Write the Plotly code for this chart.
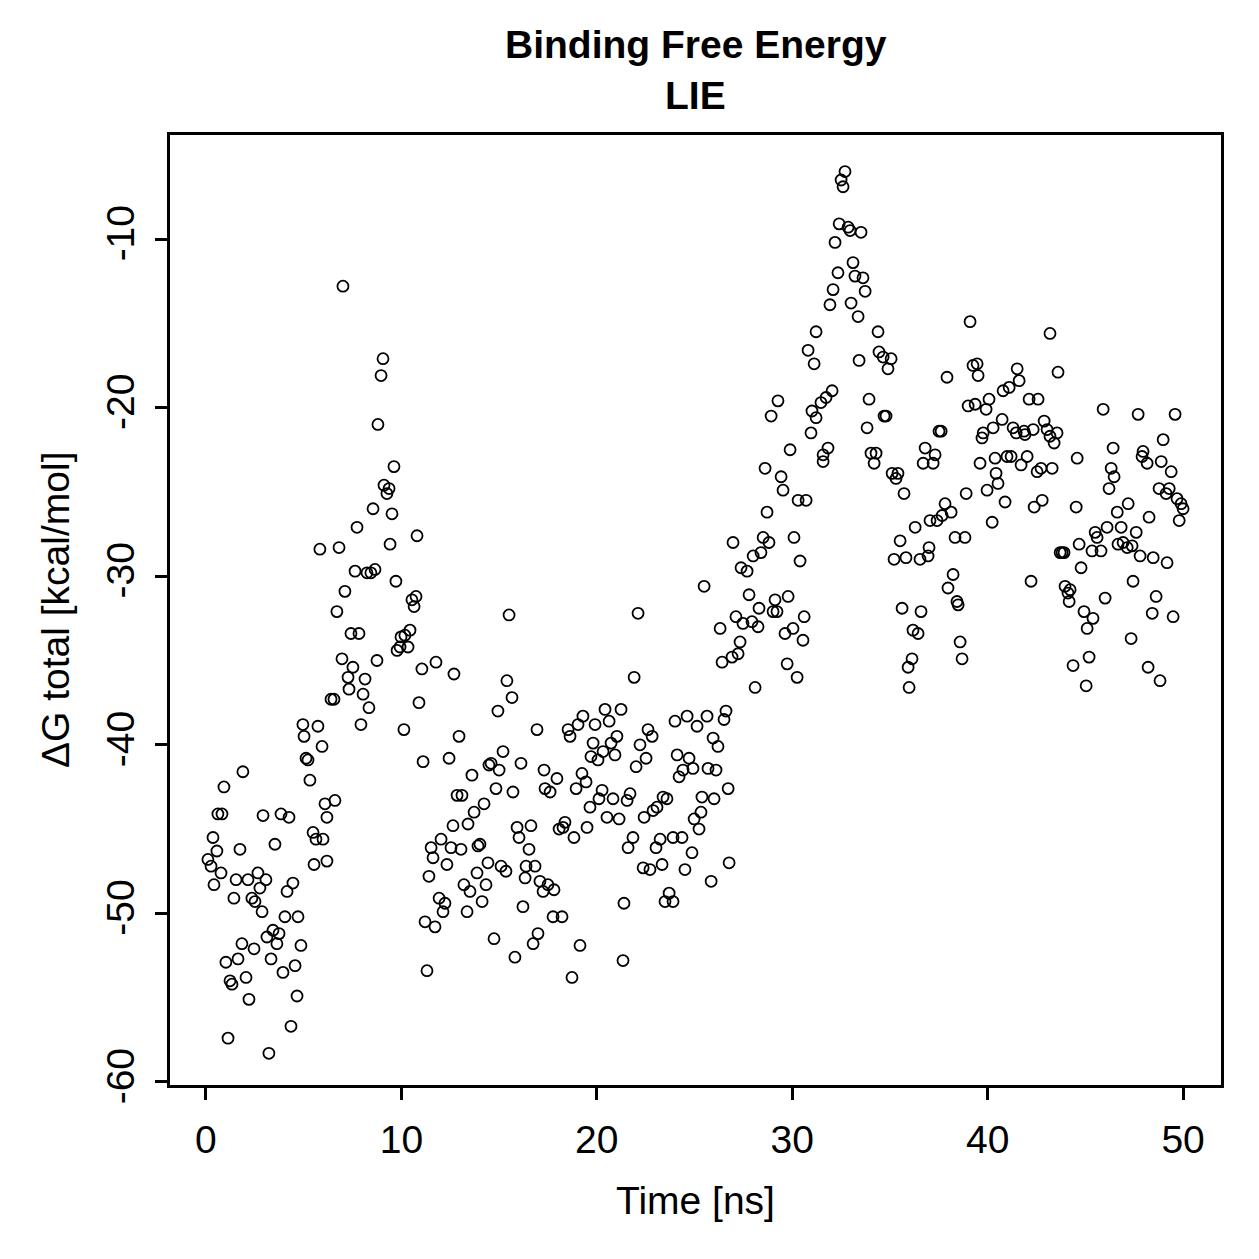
import plotly.graph_objects as go

# Time [ns] and ΔG total [kcal/mol]
time_ns = [
 4.96,5.73,5.02,5.94,5.12,5.22,5.32,1.89,0.92,0.61,0.82,2.92,3.84,4.25,6.09,6.19,0.36,0.56,1.74,3.53,
 5.48,5.63,5.99,0.10,0.26,0.77,0.41,1.54,2.15,2.66,3.07,2.76,5.53,6.19,4.45,4.15,1.43,2.35,2.51,2.87,
 4.04,4.71,3.43,3.74,3.12,3.63,4.86,1.84,2.46,1.02,1.64,3.33,4.56,3.94,1.23,1.33,2.05,2.20,4.66,4.35,
 1.13,3.22,6.60,
 7.01,9.06,8.96,8.80,9.62,9.11,9.37,9.26,8.55,9.52,7.73,10.80,5.83,6.81,9.42,7.63,8.24,8.44,8.65,9.72,
 7.11,10.54,10.75,10.65,6.70,7.42,7.83,10.44,10.18,9.98,10.34,9.93,9.78,11.77,6.96,7.52,8.75,11.05,7.27,8.14,
 7.32,8.04,6.40,6.55,8.34,10.90,7.93,10.13,
 15.51,12.69,15.40,15.66,14.94,16.94,12.95,11.11,12.44,13.61,15.20,14.59,14.48,15.00,16.12,17.30,17.96,14.84,15.71,17.35,
 17.61,12.85,13.10,14.23,13.72,12.64,13.41,15.92,16.63,16.02,16.53,12.03,11.52,11.62,12.54,13.05,13.92,14.02,12.33,14.43,
 15.10,15.35,16.38,16.84,16.33,11.41,13.87,13.20,13.51,14.33,17.09,17.50,17.25,17.81,11.93,12.23,12.13,14.13,13.36,16.22,
 17.76,11.21,11.72,14.74,16.99,16.74,15.81,11.31,
 22.11,21.91,18.53,18.63,19.04,19.29,19.91,20.42,20.63,21.24,21.03,20.73,19.81,20.32,19.70,20.06,20.93,22.62,22.83,22.21,
 22.52,22.01,24.00,24.62,25.13,25.64,25.95,26.20,24.11,24.72,24.41,24.92,24.21,25.69,26.10,19.24,19.45,18.94,20.27,20.11,
 20.83,21.70,21.55,19.65,20.52,21.14,23.39,23.59,23.08,22.88,22.42,25.38,26.00,25.33,24.98,25.23,18.37,18.07,18.27,18.83,
 19.50,21.85,21.60,23.24,23.03,23.90,24.36,24.87,22.37,22.72,23.34,24.51,25.85,21.39,23.70,23.49,23.90,18.22,19.14,21.34,
 18.73,26.61,26.51,26.72,26.77,
 29.27,28.92,28.61,29.43,29.53,30.30,30.71,28.71,26.97,28.51,28.81,30.09,28.00,28.40,30.40,27.38,27.69,25.49,27.79,29.12,
 29.79,28.30,29.02,29.22,27.12,27.48,27.94,28.25,30.61,26.31,30.04,29.63,30.55,27.33,27.23,26.92,26.41,29.74,30.25,28.10,
 32.70,32.50,32.60,32.40,32.86,32.96,33.52,32.19,33.11,32.34,33.21,33.62,33.73,32.09,31.93,33.01,33.37,31.22,34.39,30.81,
 31.12,33.42,34.44,34.65,35.06,34.90,32.04,31.73,31.47,31.01,31.22,33.93,34.70,34.80,30.96,33.83,29.89,31.83,31.58,31.58,
 34.03,34.29,34.19,
 39.10,37.92,39.25,39.46,39.51,39.00,39.36,40.07,39.92,40.79,37.51,37.62,39.77,39.71,40.28,36.80,37.31,36.70,37.21,35.11,
 35.41,35.31,35.72,39.61,40.38,40.43,40.53,39.97,38.90,37.82,38.13,37.67,37.41,37.05,36.29,35.52,37.00,36.95,36.54,35.82,
 35.21,38.33,38.84,40.23,38.23,37.97,38.43,38.49,35.62,36.59,36.18,36.44,38.59,38.69,36.13,35.93,35.98,
 43.19,43.60,41.51,41.61,41.10,42.12,42.58,40.74,41.30,41.46,41.86,41.91,42.33,42.89,43.04,43.19,43.55,43.40,40.99,41.20,
 42.02,41.71,42.53,42.73,43.30,44.58,40.89,42.38,42.79,44.53,44.68,43.71,43.81,43.91,44.78,42.22,43.96,44.22,44.11,44.17,
 44.93,45.39,45.09,45.19,44.37,45.04,45.50,45.60,45.34,45.80,
 45.91,47.70,49.59,48.98,46.42,47.95,47.90,48.16,48.88,49.39,46.32,46.47,46.21,48.77,49.29,49.13,49.69,49.90,50.00,49.80,
 47.19,46.63,48.26,46.11,46.83,47.60,46.67,46.93,47.14,47.39,47.80,48.47,49.18,47.44,46.01,48.62,48.42,49.49,47.34,48.21,
 48.82,
]

dg_total = [
 -38.8,-38.9,-39.5,-40.1,-40.8,-40.9,-42.1,-41.6,-42.5,-44.1,-44.1,-44.2,-44.1,-44.3,-43.5,-44.3,-45.5,-46.3,-46.2,-45.9,
 -45.2,-45.6,-45.6,-46.8,-47.2,-47.6,-48.3,-48.0,-48.0,-47.6,-48.0,-48.5,-47.1,-46.9,-48.2,-48.7,-49.1,-49.1,-49.3,-49.9,
 -50.2,-50.2,-51.0,-51.2,-51.4,-51.8,-51.9,-51.8,-52.1,-52.9,-52.7,-52.7,-53.1,-53.5,-54.0,-54.2,-53.8,-55.1,-54.9,-56.7,
 -57.4,-58.3,-43.3,
 -12.8,-17.1,-18.1,-21.0,-23.5,-24.6,-24.8,-25.1,-26.0,-26.3,-27.1,-27.6,-28.4,-28.3,-28.1,-29.7,-29.8,-29.8,-29.6,-30.3,
 -30.9,-31.4,-31.2,-31.8,-32.1,-33.4,-33.4,-33.2,-33.5,-33.6,-34.2,-34.2,-34.4,-35.1,-34.9,-35.4,-35.0,-35.5,-36.0,-36.1,
 -36.7,-37.0,-37.3,-37.3,-37.8,-37.5,-38.8,-39.1,
 -32.3,-35.8,-36.2,-37.2,-38.0,-39.1,-39.5,-41.0,-40.8,-41.8,-40.4,-41.1,-41.2,-41.5,-41.1,-41.5,-42.0,-42.6,-42.8,-42.6,
 -42.8,-43.0,-43.0,-43.5,-44.0,-44.8,-44.7,-44.9,-44.8,-45.5,-46.2,-45.6,-46.1,-46.7,-46.1,-46.2,-46.0,-45.9,-47.1,-47.0,
 -47.2,-47.5,-47.2,-47.2,-47.9,-47.8,-47.6,-48.3,-48.7,-48.3,-48.1,-48.3,-48.7,-48.6,-49.1,-49.4,-49.9,-49.3,-49.9,-49.6,
 -50.2,-50.5,-50.8,-51.5,-51.2,-51.8,-52.6,-53.4,
 -32.2,-36.0,-39.1,-39.5,-38.8,-38.3,-38.8,-37.9,-38.6,-37.9,-39.5,-39.9,-39.9,-40.4,-40.7,-40.9,-40.6,-39.1,-39.5,-40.0,
 -40.8,-41.3,-38.6,-38.3,-38.9,-38.3,-39.6,-40.1,-40.6,-40.8,-41.5,-41.4,-41.9,-41.4,-41.5,-41.7,-42.2,-42.6,-42.7,-43.2,
 -43.2,-42.9,-43.3,-43.7,-44.3,-44.4,-43.1,-43.2,-43.7,-43.9,-44.3,-43.1,-43.2,-44.0,-44.4,-45.0,-44.6,-45.0,-44.9,-45.5,
 -44.9,-45.5,-46.1,-45.6,-46.1,-45.5,-45.5,-46.4,-47.3,-47.4,-47.1,-47.4,-48.1,-49.4,-48.8,-49.3,-49.3,-50.2,-51.9,-52.8,
 -53.8,-38.0,-38.5,-42.6,-47.0,
 -19.6,-20.5,-23.6,-24.1,-24.9,-25.5,-25.5,-26.2,-28.0,-27.7,-28.0,-27.7,-28.8,-28.6,-29.1,-29.5,-29.7,-30.6,-31.1,-31.4,
 -31.2,-31.9,-32.1,-32.1,-32.4,-32.8,-32.7,-33.0,-32.4,-33.1,-33.1,-33.4,-33.8,-33.9,-34.6,-34.8,-35.1,-35.2,-36.0,-36.6,
 -6.0,-6.5,-6.9,-9.1,-9.3,-9.5,-9.6,-10.2,-11.4,-12.0,-12.2,-12.3,-13.1,-13.0,-13.9,-13.8,-14.6,-15.5,-15.5,-16.6,
 -17.4,-17.2,-16.7,-17.0,-17.1,-17.7,-19.0,-19.4,-19.7,-20.2,-20.6,-19.5,-20.5,-20.5,-21.5,-21.2,-22.5,-22.4,-22.8,-23.2,
 -22.7,-22.7,-23.3,
 -14.9,-18.2,-17.5,-17.4,-18.1,-19.9,-19.8,-19.5,-20.1,-19.0,-21.4,-21.4,-21.5,-21.8,-21.2,-22.4,-22.8,-23.3,-23.3,-23.9,
 -23.9,-24.2,-25.1,-23.3,-23.0,-23.9,-24.5,-24.9,-25.1,-25.7,-26.2,-26.4,-26.7,-26.7,-27.1,-27.9,-28.3,-28.8,-29.0,-28.9,
 -29.0,-27.7,-27.7,-26.8,-29.9,-30.7,-31.5,-31.7,-31.9,-32.1,-33.2,-33.4,-33.9,-34.9,-34.9,-35.4,-36.6,
 -15.6,-17.9,-17.7,-18.4,-18.8,-19.5,-19.5,-20.7,-21.2,-21.5,-21.4,-21.6,-21.3,-20.8,-21.3,-21.7,-21.5,-22.1,-22.9,-22.9,
 -22.9,-23.4,-23.8,-23.6,-23.6,-23.0,-25.6,-25.9,-25.5,-25.9,-28.1,-28.6,-28.6,-28.6,-29.5,-30.3,-30.6,-30.8,-31.0,-31.5,
 -32.1,-32.5,-33.1,-34.8,-35.3,-36.5,-27.4,-27.7,-28.5,-28.5,
 -20.1,-20.4,-20.4,-21.9,-22.4,-22.6,-22.9,-23.3,-23.2,-23.8,-23.6,-24.1,-24.8,-24.8,-24.8,-25.1,-25.4,-25.7,-26.0,-26.7,
 -25.7,-26.2,-26.5,-27.1,-27.1,-27.4,-28.1,-28.0,-28.3,-28.2,-28.8,-28.9,-29.2,-30.3,-31.3,-31.2,-32.2,-32.4,-33.7,-35.4,
 -36.2,
]

x_ticks = [0, 10, 20, 30, 40, 50]
x_tick_labels = ["0", "10", "20", "30", "40", "50"]
y_ticks = [-60, -50, -40, -30, -20, -10]
y_tick_labels = ["-60", "-50", "-40", "-30", "-20", "-10"]

title_lines = ["Binding Free Energy", "LIE"]
x_label = "Time [ns]"
y_label = "ΔG total [kcal/mol]"

FONT = "Liberation Sans, Arial, Helvetica, sans-serif"

fig = go.Figure()
fig.add_trace(go.Scatter(
    x=time_ns, y=dg_total, mode="markers",
    marker=dict(symbol="circle-open", size=11, color="black",
                line=dict(width=1.8, color="black")),
    showlegend=False, hoverinfo="skip",
))

axis_common = dict(
    showgrid=False, zeroline=False, showline=True, linecolor="black",
    linewidth=2.5, mirror=True, ticks="outside", ticklen=12, tickwidth=2.5,
    tickcolor="black", tickfont=dict(family=FONT, size=39, color="black"),
)

fig.update_layout(
    width=1259, height=1259,
    margin=dict(l=170, r=38, t=135, b=174),
    paper_bgcolor="white", plot_bgcolor="white",
    font=dict(family=FONT, color="black"),
    xaxis=dict(range=[-1.84, 51.94], tickmode="array", tickvals=x_ticks,
               ticktext=x_tick_labels, ticklabelstandoff=6, **axis_common),
    yaxis=dict(range=[-60.18, -3.83], tickmode="array", tickvals=y_ticks,
               ticktext=y_tick_labels, tickangle=-90, ticklabelstandoff=6,
               **axis_common),
    annotations=[
        dict(text="<b>%s</b>" % title_lines[0], xref="paper", yref="paper",
             x=0.5, y=1 + (135 - 45) / 950, xanchor="center", yanchor="middle",
             showarrow=False, font=dict(family=FONT, size=39, color="black")),
        dict(text="<b>%s</b>" % title_lines[1], xref="paper", yref="paper",
             x=0.5, y=1 + (135 - 95) / 950, xanchor="center", yanchor="middle",
             showarrow=False, font=dict(family=FONT, size=39, color="black")),
        dict(text=x_label, xref="paper", yref="paper", x=0.5,
             y=-(1200 - 1085) / 950, xanchor="center", yanchor="middle",
             showarrow=False, font=dict(family=FONT, size=39, color="black")),
        dict(text=y_label, xref="paper", yref="paper", x=(55 - 170) / 1051,
             y=0.5, xanchor="center", yanchor="middle", textangle=-90,
             showarrow=False, font=dict(family=FONT, size=39, color="black")),
    ],
)

fig.write_html("out.html")
